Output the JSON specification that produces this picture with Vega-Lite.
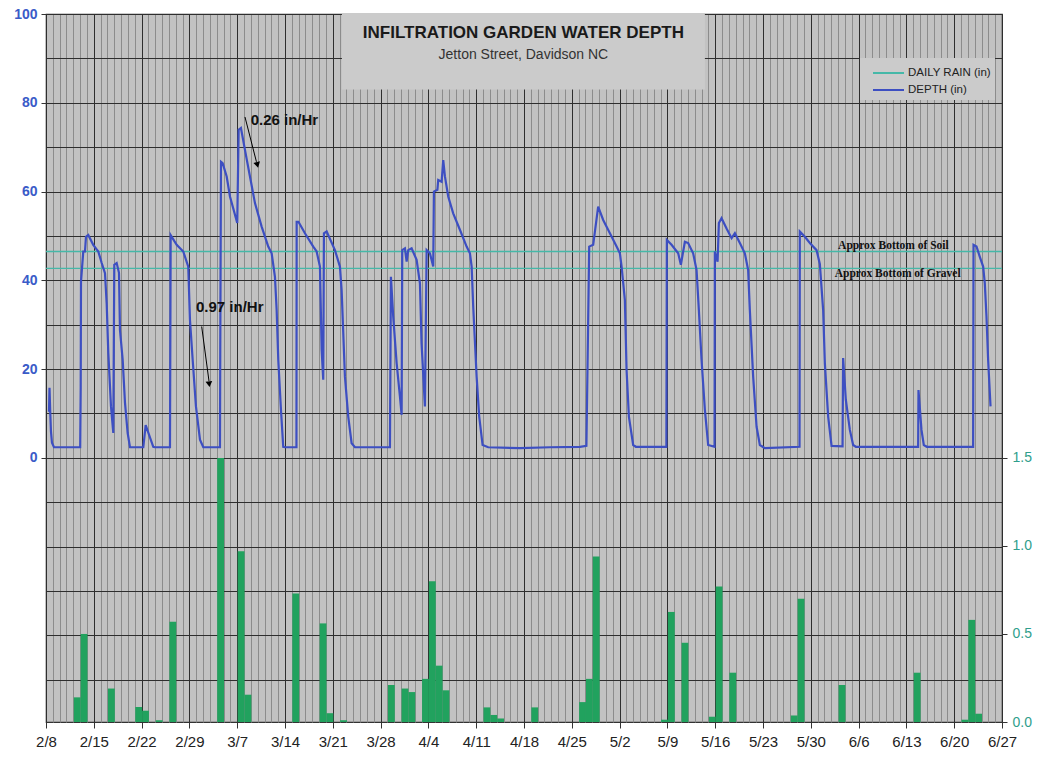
{
  "$schema": "https://vega.github.io/schema/vega-lite/v6.json",
  "width": 956,
  "height": 708,
  "autosize": {"type": "none"},
  "padding": {"left": 46, "top": 14, "right": 35, "bottom": 40},
  "background": "white",
  "config": {
    "font": "Liberation Sans",
    "view": {"fill": "#c2c2c2", "stroke": "#333333", "strokeWidth": 1.2},
    "axis": {"zindex": 0}
  },
  "datasets": {
    "rain": [
      {"date": "2008-02-12T00:00", "rain": 0.14},
      {"date": "2008-02-13T00:00", "rain": 0.50},
      {"date": "2008-02-17T00:00", "rain": 0.19},
      {"date": "2008-02-21T00:00", "rain": 0.085},
      {"date": "2008-02-22T00:00", "rain": 0.064},
      {"date": "2008-02-24T00:00", "rain": 0.01},
      {"date": "2008-02-26T00:00", "rain": 0.57},
      {"date": "2008-03-04T00:00", "rain": 1.50},
      {"date": "2008-03-07T00:00", "rain": 0.97},
      {"date": "2008-03-08T00:00", "rain": 0.155},
      {"date": "2008-03-15T00:00", "rain": 0.73},
      {"date": "2008-03-19T00:00", "rain": 0.56},
      {"date": "2008-03-20T00:00", "rain": 0.05},
      {"date": "2008-03-22T00:00", "rain": 0.01},
      {"date": "2008-03-29T00:00", "rain": 0.21},
      {"date": "2008-03-31T00:00", "rain": 0.19},
      {"date": "2008-04-01T00:00", "rain": 0.17},
      {"date": "2008-04-03T00:00", "rain": 0.245},
      {"date": "2008-04-04T00:00", "rain": 0.80},
      {"date": "2008-04-05T00:00", "rain": 0.32},
      {"date": "2008-04-06T00:00", "rain": 0.18},
      {"date": "2008-04-12T00:00", "rain": 0.083},
      {"date": "2008-04-13T00:00", "rain": 0.04},
      {"date": "2008-04-14T00:00", "rain": 0.02},
      {"date": "2008-04-19T00:00", "rain": 0.083},
      {"date": "2008-04-26T00:00", "rain": 0.113},
      {"date": "2008-04-27T00:00", "rain": 0.245},
      {"date": "2008-04-28T00:00", "rain": 0.94},
      {"date": "2008-05-08T00:00", "rain": 0.013},
      {"date": "2008-05-09T00:00", "rain": 0.625},
      {"date": "2008-05-11T00:00", "rain": 0.45},
      {"date": "2008-05-15T00:00", "rain": 0.03},
      {"date": "2008-05-16T00:00", "rain": 0.77},
      {"date": "2008-05-18T00:00", "rain": 0.28},
      {"date": "2008-05-27T00:00", "rain": 0.037},
      {"date": "2008-05-28T00:00", "rain": 0.70},
      {"date": "2008-06-03T00:00", "rain": 0.21},
      {"date": "2008-06-14T00:00", "rain": 0.28},
      {"date": "2008-06-21T00:00", "rain": 0.013},
      {"date": "2008-06-22T00:00", "rain": 0.58},
      {"date": "2008-06-23T00:00", "rain": 0.047}
    ],
    "levels": [
      {"name": "Approx Bottom of Soil", "level": 46.5},
      {"name": "Approx Bottom of Gravel", "level": 42.7}
    ],
    "depth": [
      {"t": "2008-02-08T10:30", "d": 10.4},
      {"t": "2008-02-08T12:20", "d": 15.8},
      {"t": "2008-02-08T15:00", "d": 10.1},
      {"t": "2008-02-08T17:30", "d": 5.9},
      {"t": "2008-02-08T21:00", "d": 3.4},
      {"t": "2008-02-09T04:00", "d": 2.4},
      {"t": "2008-02-13T00:10", "d": 2.4},
      {"t": "2008-02-13T02:00", "d": 16.1},
      {"t": "2008-02-13T03:00", "d": 39.7},
      {"t": "2008-02-13T11:00", "d": 46.5},
      {"t": "2008-02-13T17:00", "d": 46.5},
      {"t": "2008-02-13T20:30", "d": 49.8},
      {"t": "2008-02-14T04:30", "d": 50.2},
      {"t": "2008-02-14T22:00", "d": 48.0},
      {"t": "2008-02-15T15:45", "d": 46.5},
      {"t": "2008-02-16T03:45", "d": 43.9},
      {"t": "2008-02-16T15:20", "d": 41.6},
      {"t": "2008-02-16T21:15", "d": 34.8},
      {"t": "2008-02-17T03:00", "d": 23.6},
      {"t": "2008-02-17T12:25", "d": 11.6},
      {"t": "2008-02-17T20:30", "d": 5.6},
      {"t": "2008-02-18T00:00", "d": 43.5},
      {"t": "2008-02-18T08:25", "d": 43.9},
      {"t": "2008-02-18T16:30", "d": 41.7},
      {"t": "2008-02-18T20:00", "d": 28.8},
      {"t": "2008-02-19T05:30", "d": 22.1},
      {"t": "2008-02-19T13:40", "d": 12.4},
      {"t": "2008-02-19T23:00", "d": 5.6},
      {"t": "2008-02-20T07:10", "d": 2.4},
      {"t": "2008-02-22T06:00", "d": 2.4},
      {"t": "2008-02-22T14:20", "d": 7.4},
      {"t": "2008-02-23T17:00", "d": 2.5},
      {"t": "2008-02-23T23:00", "d": 2.4},
      {"t": "2008-02-26T03:45", "d": 2.4},
      {"t": "2008-02-26T06:10", "d": 50.2},
      {"t": "2008-02-27T03:15", "d": 48.0},
      {"t": "2008-02-28T02:25", "d": 46.5},
      {"t": "2008-02-28T20:00", "d": 43.1},
      {"t": "2008-02-29T02:00", "d": 31.1},
      {"t": "2008-02-29T11:30", "d": 22.1},
      {"t": "2008-02-29T23:00", "d": 11.6},
      {"t": "2008-03-01T13:10", "d": 4.1},
      {"t": "2008-03-02T00:45", "d": 2.4},
      {"t": "2008-03-04T11:25", "d": 2.4},
      {"t": "2008-03-04T12:30", "d": 25.1},
      {"t": "2008-03-04T15:00", "d": 66.7},
      {"t": "2008-03-04T20:50", "d": 66.4},
      {"t": "2008-03-05T11:00", "d": 63.4},
      {"t": "2008-03-05T22:35", "d": 58.9},
      {"t": "2008-03-06T10:10", "d": 56.2},
      {"t": "2008-03-07T00:10", "d": 52.9},
      {"t": "2008-03-07T05:05", "d": 73.9},
      {"t": "2008-03-07T13:10", "d": 74.3},
      {"t": "2008-03-08T03:15", "d": 69.4},
      {"t": "2008-03-08T20:50", "d": 63.4},
      {"t": "2008-03-09T14:25", "d": 57.4},
      {"t": "2008-03-10T13:55", "d": 52.1},
      {"t": "2008-03-11T13:10", "d": 47.6},
      {"t": "2008-03-12T01:05", "d": 46.1},
      {"t": "2008-03-12T12:40", "d": 40.8},
      {"t": "2008-03-12T18:40", "d": 33.3},
      {"t": "2008-03-13T00:20", "d": 22.1},
      {"t": "2008-03-13T09:50", "d": 10.8},
      {"t": "2008-03-13T17:50", "d": 2.5},
      {"t": "2008-03-13T23:50", "d": 2.4},
      {"t": "2008-03-15T16:15", "d": 2.4},
      {"t": "2008-03-15T17:00", "d": 53.2},
      {"t": "2008-03-15T23:20", "d": 53.2},
      {"t": "2008-03-16T22:05", "d": 50.6},
      {"t": "2008-03-18T03:20", "d": 47.6},
      {"t": "2008-03-18T15:10", "d": 46.5},
      {"t": "2008-03-19T02:50", "d": 43.1},
      {"t": "2008-03-19T08:50", "d": 24.3},
      {"t": "2008-03-19T14:25", "d": 17.6},
      {"t": "2008-03-19T16:50", "d": 50.6},
      {"t": "2008-03-20T02:20", "d": 51.0},
      {"t": "2008-03-21T07:30", "d": 46.8},
      {"t": "2008-03-22T01:05", "d": 43.1},
      {"t": "2008-03-22T07:00", "d": 37.8},
      {"t": "2008-03-22T18:40", "d": 18.3},
      {"t": "2008-03-23T06:15", "d": 9.3},
      {"t": "2008-03-23T18:10", "d": 3.3},
      {"t": "2008-03-24T05:50", "d": 2.4},
      {"t": "2008-03-29T08:50", "d": 2.4},
      {"t": "2008-03-29T12:15", "d": 40.8},
      {"t": "2008-03-29T20:25", "d": 31.8},
      {"t": "2008-03-30T08:25", "d": 21.3},
      {"t": "2008-03-30T20:00", "d": 13.8},
      {"t": "2008-03-31T01:55", "d": 9.7},
      {"t": "2008-03-31T04:05", "d": 46.8},
      {"t": "2008-03-31T13:30", "d": 47.2},
      {"t": "2008-03-31T19:30", "d": 44.2},
      {"t": "2008-04-01T01:10", "d": 46.8},
      {"t": "2008-04-01T13:00", "d": 47.2},
      {"t": "2008-04-02T06:35", "d": 44.6},
      {"t": "2008-04-02T18:15", "d": 39.3},
      {"t": "2008-04-03T00:00", "d": 25.8},
      {"t": "2008-04-03T11:45", "d": 11.6},
      {"t": "2008-04-03T17:50", "d": 46.8},
      {"t": "2008-04-04T05:20", "d": 46.1},
      {"t": "2008-04-04T17:00", "d": 43.1},
      {"t": "2008-04-04T19:25", "d": 60.0},
      {"t": "2008-04-05T07:40", "d": 60.4},
      {"t": "2008-04-05T10:30", "d": 62.6},
      {"t": "2008-04-05T22:30", "d": 62.2},
      {"t": "2008-04-06T04:10", "d": 67.1},
      {"t": "2008-04-06T10:05", "d": 63.4},
      {"t": "2008-04-06T21:40", "d": 58.9},
      {"t": "2008-04-07T15:10", "d": 55.1},
      {"t": "2008-04-08T14:45", "d": 51.4},
      {"t": "2008-04-09T14:20", "d": 47.6},
      {"t": "2008-04-10T02:00", "d": 46.1},
      {"t": "2008-04-10T08:00", "d": 43.1},
      {"t": "2008-04-10T13:30", "d": 34.1},
      {"t": "2008-04-11T01:30", "d": 18.3},
      {"t": "2008-04-11T10:35", "d": 9.3},
      {"t": "2008-04-11T22:30", "d": 2.9},
      {"t": "2008-04-12T18:15", "d": 2.4},
      {"t": "2008-04-17T09:35", "d": 2.2},
      {"t": "2008-04-21T19:10", "d": 2.4},
      {"t": "2008-04-26T04:50", "d": 2.5},
      {"t": "2008-04-27T03:20", "d": 2.7},
      {"t": "2008-04-27T13:10", "d": 47.6},
      {"t": "2008-04-28T03:10", "d": 48.0},
      {"t": "2008-04-28T20:40", "d": 56.6},
      {"t": "2008-04-29T14:20", "d": 53.6},
      {"t": "2008-04-30T13:55", "d": 50.6},
      {"t": "2008-05-01T13:25", "d": 47.6},
      {"t": "2008-05-02T01:00", "d": 46.1},
      {"t": "2008-05-02T07:00", "d": 43.1},
      {"t": "2008-05-02T18:30", "d": 35.6},
      {"t": "2008-05-03T00:30", "d": 19.8},
      {"t": "2008-05-03T08:40", "d": 9.3},
      {"t": "2008-05-03T23:45", "d": 2.9},
      {"t": "2008-05-04T09:10", "d": 2.5},
      {"t": "2008-05-08T20:25", "d": 2.5},
      {"t": "2008-05-08T22:05", "d": 49.1},
      {"t": "2008-05-09T14:35", "d": 48.0},
      {"t": "2008-05-10T13:55", "d": 46.1},
      {"t": "2008-05-10T23:20", "d": 43.5},
      {"t": "2008-05-11T13:25", "d": 48.7},
      {"t": "2008-05-12T01:00", "d": 48.4},
      {"t": "2008-05-12T18:30", "d": 46.1},
      {"t": "2008-05-13T06:30", "d": 42.3},
      {"t": "2008-05-13T14:35", "d": 33.3},
      {"t": "2008-05-14T00:00", "d": 22.1},
      {"t": "2008-05-14T11:45", "d": 10.8},
      {"t": "2008-05-14T23:15", "d": 2.9},
      {"t": "2008-05-15T21:40", "d": 2.5},
      {"t": "2008-05-15T22:50", "d": 46.5},
      {"t": "2008-05-16T08:20", "d": 44.2},
      {"t": "2008-05-16T12:55", "d": 52.9},
      {"t": "2008-05-16T22:20", "d": 54.0},
      {"t": "2008-05-17T15:50", "d": 51.7},
      {"t": "2008-05-18T09:35", "d": 49.5},
      {"t": "2008-05-18T21:10", "d": 50.6},
      {"t": "2008-05-19T14:40", "d": 48.4},
      {"t": "2008-05-20T08:10", "d": 46.1},
      {"t": "2008-05-20T19:50", "d": 42.3},
      {"t": "2008-05-21T01:45", "d": 33.3},
      {"t": "2008-05-21T13:25", "d": 18.3},
      {"t": "2008-05-22T01:25", "d": 7.0},
      {"t": "2008-05-22T13:00", "d": 2.9},
      {"t": "2008-05-23T06:30", "d": 2.2},
      {"t": "2008-05-28T08:25", "d": 2.5},
      {"t": "2008-05-28T09:25", "d": 51.0},
      {"t": "2008-05-29T03:05", "d": 49.8},
      {"t": "2008-05-29T20:40", "d": 48.4},
      {"t": "2008-05-30T20:10", "d": 46.8},
      {"t": "2008-05-31T07:45", "d": 43.7},
      {"t": "2008-05-31T19:25", "d": 33.3},
      {"t": "2008-06-01T01:25", "d": 21.3},
      {"t": "2008-06-01T13:00", "d": 9.3},
      {"t": "2008-06-02T01:00", "d": 2.7},
      {"t": "2008-06-03T15:35", "d": 2.6},
      {"t": "2008-06-03T17:35", "d": 22.5},
      {"t": "2008-06-04T03:05", "d": 13.1},
      {"t": "2008-06-04T17:15", "d": 6.3},
      {"t": "2008-06-05T04:50", "d": 2.9},
      {"t": "2008-06-05T14:25", "d": 2.5},
      {"t": "2008-06-14T17:15", "d": 2.5},
      {"t": "2008-06-14T18:30", "d": 15.3},
      {"t": "2008-06-15T05:00", "d": 6.3},
      {"t": "2008-06-15T13:10", "d": 2.9},
      {"t": "2008-06-15T23:45", "d": 2.5},
      {"t": "2008-06-22T18:30", "d": 2.5},
      {"t": "2008-06-22T19:55", "d": 48.0},
      {"t": "2008-06-23T06:25", "d": 47.6},
      {"t": "2008-06-23T18:00", "d": 45.3},
      {"t": "2008-06-24T05:45", "d": 43.1},
      {"t": "2008-06-24T11:35", "d": 39.3},
      {"t": "2008-06-24T17:30", "d": 31.8},
      {"t": "2008-06-24T23:15", "d": 22.1},
      {"t": "2008-06-25T07:40", "d": 11.6}
    ]
  },
  "resolve": {"scale": {"y": "independent"}, "axis": {"x": "independent", "y": "independent"}},
  "layer": [
    {
      "data": {"name": "rain"},
      "mark": {"type": "bar", "color": "#21a25e", "binSpacing": 0},
      "encoding": {
        "x": {
          "field": "date", "timeUnit": "yearmonthdate", "type": "temporal",
          "scale": {"domain": [{"year": 2008, "month": 2, "date": 8}, {"year": 2008, "month": 6, "date": 27}]},
          "axis": {
            "orient": "bottom", "title": null, "format": "%-m/%-d",
            "values": [
              {"year": 2008, "month": 2, "date": 8}, {"year": 2008, "month": 2, "date": 15},
              {"year": 2008, "month": 2, "date": 22}, {"year": 2008, "month": 2, "date": 29},
              {"year": 2008, "month": 3, "date": 7}, {"year": 2008, "month": 3, "date": 14},
              {"year": 2008, "month": 3, "date": 21}, {"year": 2008, "month": 3, "date": 28},
              {"year": 2008, "month": 4, "date": 4}, {"year": 2008, "month": 4, "date": 11},
              {"year": 2008, "month": 4, "date": 18}, {"year": 2008, "month": 4, "date": 25},
              {"year": 2008, "month": 5, "date": 2}, {"year": 2008, "month": 5, "date": 9},
              {"year": 2008, "month": 5, "date": 16}, {"year": 2008, "month": 5, "date": 23},
              {"year": 2008, "month": 5, "date": 30}, {"year": 2008, "month": 6, "date": 6},
              {"year": 2008, "month": 6, "date": 13}, {"year": 2008, "month": 6, "date": 20},
              {"year": 2008, "month": 6, "date": 27}
            ],
            "grid": true, "gridColor": "#2e2e2e", "gridWidth": 1,
            "domain": false, "tickColor": "#333333", "tickSize": 6,
            "labelFontSize": 15, "labelColor": "#222222", "labelPadding": 6,
            "labelFlush": false, "labelOverlap": false
          }
        },
        "y": {
          "field": "rain", "type": "quantitative",
          "scale": {"domain": [0, 4.021], "nice": false, "zero": true},
          "axis": {
            "orient": "right", "title": null, "values": [0, 0.5, 1, 1.5], "format": ".1f",
            "grid": false, "domain": false, "tickColor": "#333333", "tickSize": 5,
            "labelColor": "#2f9e8c", "labelFontSize": 14, "labelPadding": 5
          }
        }
      }
    },
    {
      "data": {"values": [{}]},
      "mark": {"type": "rect", "color": "#cbcbcb"},
      "encoding": {
        "x": {"datum": {"year": 2008, "month": 3, "date": 22, "hours": 8, "minutes": 10}, "type": "temporal", "axis": null},
        "x2": {"datum": {"year": 2008, "month": 5, "date": 14, "hours": 11, "minutes": 45}},
        "y": {"datum": 100, "type": "quantitative", "axis": null, "scale": {"domain": [-59.5, 100], "nice": false, "zero": false}},
        "y2": {"datum": 83.0}
      }
    },
    {
      "data": {"name": "levels"},
      "mark": {"type": "rule", "strokeWidth": 1.3},
      "encoding": {
        "y": {"field": "level", "type": "quantitative", "axis": null, "scale": {"domain": [-59.5, 100], "nice": false, "zero": false}},
        "color": {"datum": "DAILY RAIN (in)", "type": "nominal"}
      }
    },
    {
      "data": {"name": "depth"},
      "mark": {"type": "line", "strokeWidth": 2.2},
      "encoding": {
        "x": {
          "field": "t", "type": "temporal",
          "scale": {"domain": [{"year": 2008, "month": 2, "date": 8}, {"year": 2008, "month": 6, "date": 27}]},
          "axis": {
            "orient": "top", "title": null, "labels": false, "ticks": false, "domain": false,
            "tickCount": {"interval": "day", "step": 1},
            "grid": true, "gridColor": "#8c8c8c", "gridWidth": 1,
            "gridOpacity": {"condition": {"test": "round((datum.value - datetime(2008, 1, 8)) / 86400000) % 7 === 0", "value": 0}, "value": 1}
          }
        },
        "y": {
          "field": "d", "type": "quantitative",
          "scale": {"domain": [-59.5, 100], "nice": false, "zero": false},
          "axis": {
            "orient": "left", "title": null,
            "values": [-50, -40, -30, -20, -10, 0, 10, 20, 30, 40, 50, 60, 70, 80, 90, 100],
            "labelExpr": "datum.value >= 0 && datum.value % 20 === 0 ? datum.label : ''",
            "tickOpacity": {"condition": {"test": "datum.value >= 0 && datum.value % 20 === 0", "value": 1}, "value": 0},
            "grid": true, "gridColor": "#2e2e2e", "gridWidth": 1,
            "domain": false, "tickColor": "#333333", "tickSize": 5,
            "labelColor": "#3a5bc8", "labelFontSize": 14, "labelFontWeight": "bold", "labelPadding": 4
          }
        },
        "color": {
          "datum": "DEPTH (in)", "type": "nominal",
          "scale": {"domain": ["DAILY RAIN (in)", "DEPTH (in)"], "range": ["#45b8a8", "#3d4fc2"]},
          "legend": {
            "title": null, "orient": "none", "legendX": 814, "legendY": 44,
            "fillColor": "#cbcbcb", "padding": 4,
            "symbolType": "M-0.2,0L2.9,0", "symbolSize": 400, "symbolStrokeWidth": 2,
            "labelFontSize": 11.5, "labelColor": "#222222", "labelOffset": 22, "rowPadding": -2
          }
        }
      }
    },
    {
      "data": {"values": [{}]},
      "mark": {"type": "rule", "color": "black", "strokeWidth": 1},
      "encoding": {
        "x": {"datum": {"year": 2008, "month": 3, "date": 8, "hours": 3, "minutes": 20}, "type": "temporal", "axis": null},
        "x2": {"datum": {"year": 2008, "month": 3, "date": 9, "hours": 19, "minutes": 40}},
        "y": {"datum": 76.8, "type": "quantitative", "axis": null, "scale": {"domain": [-59.5, 100], "nice": false, "zero": false}},
        "y2": {"datum": 66.7}
      }
    },
    {
      "data": {"values": [{}]},
      "mark": {"type": "point", "shape": "triangle-down", "filled": true, "color": "black", "opacity": 1, "size": 45, "angle": -14},
      "encoding": {
        "x": {"datum": {"year": 2008, "month": 3, "date": 9, "hours": 23, "minutes": 0}, "type": "temporal", "axis": null},
        "y": {"datum": 66.0, "type": "quantitative", "axis": null, "scale": {"domain": [-59.5, 100], "nice": false, "zero": false}}
      }
    },
    {
      "data": {"values": [{}]},
      "mark": {"type": "rule", "color": "black", "strokeWidth": 1},
      "encoding": {
        "x": {"datum": {"year": 2008, "month": 3, "date": 1, "hours": 19, "minutes": 10}, "type": "temporal", "axis": null},
        "x2": {"datum": {"year": 2008, "month": 3, "date": 2, "hours": 20, "minutes": 50}},
        "y": {"datum": 29.6, "type": "quantitative", "axis": null, "scale": {"domain": [-59.5, 100], "nice": false, "zero": false}},
        "y2": {"datum": 17.3}
      }
    },
    {
      "data": {"values": [{}]},
      "mark": {"type": "point", "shape": "triangle-down", "filled": true, "color": "black", "opacity": 1, "size": 45, "angle": -7},
      "encoding": {
        "x": {"datum": {"year": 2008, "month": 3, "date": 2, "hours": 21, "minutes": 40}, "type": "temporal", "axis": null},
        "y": {"datum": 16.6, "type": "quantitative", "axis": null, "scale": {"domain": [-59.5, 100], "nice": false, "zero": false}}
      }
    },
    {
      "data": {"values": [{}]},
      "mark": {"type": "text", "text": "0.26 in/Hr", "align": "left", "baseline": "middle", "fontSize": 15, "fontWeight": "bold", "color": "#111111"},
      "encoding": {
        "x": {"datum": {"year": 2008, "month": 3, "date": 8, "hours": 23, "minutes": 20}, "type": "temporal", "axis": null},
        "y": {"datum": 76.1, "type": "quantitative", "axis": null, "scale": {"domain": [-59.5, 100], "nice": false, "zero": false}}
      }
    },
    {
      "data": {"values": [{}]},
      "mark": {"type": "text", "text": "0.97 in/Hr", "align": "left", "baseline": "middle", "fontSize": 15, "fontWeight": "bold", "color": "#111111"},
      "encoding": {
        "x": {"datum": {"year": 2008, "month": 2, "date": 29, "hours": 23, "minutes": 0}, "type": "temporal", "axis": null},
        "y": {"datum": 34.0, "type": "quantitative", "axis": null, "scale": {"domain": [-59.5, 100], "nice": false, "zero": false}}
      }
    },
    {
      "data": {"values": [{}]},
      "mark": {"type": "text", "text": "Approx Bottom of Soil", "align": "left", "baseline": "middle", "font": "Liberation Serif", "fontSize": 11.5, "fontWeight": "bold", "color": "#111111"},
      "encoding": {
        "x": {"datum": {"year": 2008, "month": 6, "date": 3, "hours": 0}, "type": "temporal", "axis": null},
        "y": {"datum": 47.7, "type": "quantitative", "axis": null, "scale": {"domain": [-59.5, 100], "nice": false, "zero": false}}
      }
    },
    {
      "data": {"values": [{}]},
      "mark": {"type": "text", "text": "Approx Bottom of Gravel", "align": "left", "baseline": "middle", "font": "Liberation Serif", "fontSize": 11.5, "fontWeight": "bold", "color": "#111111"},
      "encoding": {
        "x": {"datum": {"year": 2008, "month": 6, "date": 2, "hours": 12}, "type": "temporal", "axis": null},
        "y": {"datum": 41.4, "type": "quantitative", "axis": null, "scale": {"domain": [-59.5, 100], "nice": false, "zero": false}}
      }
    },
    {
      "data": {"values": [{}]},
      "mark": {"type": "text", "text": "INFILTRATION GARDEN WATER DEPTH", "align": "center", "baseline": "middle", "fontSize": 17, "fontWeight": "bold", "color": "#1a1a1a"},
      "encoding": {
        "x": {"datum": {"year": 2008, "month": 4, "date": 17, "hours": 21, "minutes": 50}, "type": "temporal", "axis": null},
        "y": {"datum": 95.7, "type": "quantitative", "axis": null, "scale": {"domain": [-59.5, 100], "nice": false, "zero": false}}
      }
    },
    {
      "data": {"values": [{}]},
      "mark": {"type": "text", "text": "Jetton Street, Davidson NC", "align": "center", "baseline": "middle", "fontSize": 14, "color": "#333333"},
      "encoding": {
        "x": {"datum": {"year": 2008, "month": 4, "date": 17, "hours": 21, "minutes": 50}, "type": "temporal", "axis": null},
        "y": {"datum": 90.8, "type": "quantitative", "axis": null, "scale": {"domain": [-59.5, 100], "nice": false, "zero": false}}
      }
    }
  ]
}
